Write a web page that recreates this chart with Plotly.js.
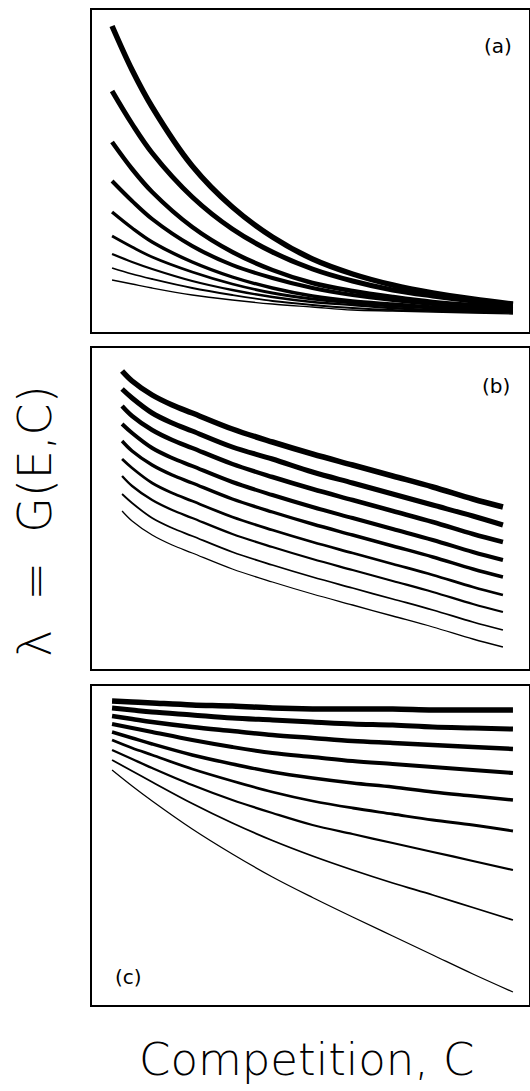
<!DOCTYPE html>
<html>
<head>
<meta charset="utf-8">
<script src="https://cdn.plot.ly/plotly-3.0.1.min.js"></script>
<style>html,body{margin:0;padding:0;background:#fff;}#chart{width:530px;height:1091px;}</style>
</head>
<body>
<div id="chart"></div>
<script>
// Competition values (C) sampled along each panel
const competitionAC = [0, 0.5, 1, 2, 3, 4, 5, 6, 7, 8, 9, 10];
const competitionB = [0.25, 0.5, 1, 1.5, 2, 3, 4, 5, 6, 7, 8, 9, 9.75];

// Panel (a): lambda = G(E,C), one row per environment level (highest E first)
const lambdaA = [
  [3.06, 2.62, 2.25, 1.66, 1.25, 0.95, 0.73, 0.58, 0.47, 0.39, 0.33, 0.28],
  [2.41, 2.08, 1.79, 1.35, 1.03, 0.80, 0.63, 0.51, 0.42, 0.36, 0.31, 0.27],
  [1.90, 1.63, 1.40, 1.05, 0.80, 0.62, 0.49, 0.41, 0.35, 0.30, 0.27, 0.25],
  [1.51, 1.31, 1.13, 0.86, 0.67, 0.54, 0.44, 0.37, 0.32, 0.28, 0.25, 0.23],
  [1.20, 1.04, 0.90, 0.70, 0.55, 0.44, 0.36, 0.31, 0.28, 0.25, 0.23, 0.22],
  [0.96, 0.85, 0.75, 0.60, 0.48, 0.39, 0.33, 0.29, 0.26, 0.24, 0.22, 0.21],
  [0.78, 0.70, 0.63, 0.51, 0.42, 0.35, 0.30, 0.27, 0.24, 0.22, 0.21, 0.20],
  [0.64, 0.58, 0.53, 0.44, 0.37, 0.31, 0.27, 0.24, 0.22, 0.21, 0.20, 0.19],
  [0.52, 0.48, 0.44, 0.37, 0.32, 0.28, 0.25, 0.22, 0.21, 0.20, 0.19, 0.18]
];

// Panel (b)
const lambdaB = [
  [2.98, 2.88, 2.74, 2.64, 2.56, 2.40, 2.27, 2.15, 2.04, 1.93, 1.82, 1.70, 1.62],
  [2.80, 2.71, 2.56, 2.46, 2.38, 2.22, 2.10, 1.97, 1.86, 1.75, 1.64, 1.53, 1.44],
  [2.63, 2.53, 2.39, 2.29, 2.21, 2.05, 1.92, 1.80, 1.69, 1.58, 1.47, 1.35, 1.27],
  [2.45, 2.36, 2.21, 2.11, 2.03, 1.87, 1.74, 1.62, 1.51, 1.40, 1.29, 1.17, 1.09],
  [2.28, 2.18, 2.04, 1.94, 1.86, 1.70, 1.57, 1.45, 1.34, 1.23, 1.12, 1.00, 0.92],
  [2.10, 2.01, 1.86, 1.76, 1.68, 1.52, 1.39, 1.27, 1.16, 1.05, 0.94, 0.82, 0.74],
  [1.93, 1.83, 1.69, 1.59, 1.51, 1.35, 1.22, 1.10, 0.99, 0.88, 0.77, 0.65, 0.57],
  [1.75, 1.66, 1.51, 1.41, 1.33, 1.17, 1.04, 0.92, 0.81, 0.70, 0.59, 0.47, 0.39],
  [1.58, 1.48, 1.34, 1.24, 1.16, 1.00, 0.87, 0.75, 0.64, 0.53, 0.42, 0.30, 0.22]
];

// Panel (c)
const lambdaC = [
  [3.04, 3.03, 3.02, 3.00, 2.99, 2.97, 2.96, 2.96, 2.96, 2.95, 2.95, 2.95],
  [2.97, 2.95, 2.93, 2.90, 2.87, 2.85, 2.83, 2.81, 2.80, 2.78, 2.77, 2.76],
  [2.89, 2.86, 2.83, 2.78, 2.74, 2.70, 2.67, 2.64, 2.62, 2.60, 2.58, 2.56],
  [2.81, 2.77, 2.73, 2.65, 2.58, 2.52, 2.48, 2.44, 2.41, 2.38, 2.35, 2.32],
  [2.73, 2.67, 2.61, 2.50, 2.41, 2.33, 2.27, 2.22, 2.18, 2.13, 2.09, 2.05],
  [2.65, 2.57, 2.50, 2.36, 2.24, 2.13, 2.04, 1.97, 1.91, 1.85, 1.80, 1.74],
  [2.55, 2.46, 2.37, 2.20, 2.05, 1.92, 1.80, 1.71, 1.62, 1.53, 1.44, 1.35],
  [2.45, 2.34, 2.23, 2.015, 1.82, 1.645, 1.49, 1.35, 1.22, 1.10, 0.975, 0.85],
  [2.35, 2.19, 2.04, 1.76, 1.51, 1.28, 1.075, 0.88, 0.69, 0.50, 0.31, 0.13]
];

const panelLabels = ['(a)', '(b)', '(c)'];
const lineWidths = [5.5, 5, 4.5, 4, 3.4, 2.8, 2.3, 1.8, 1.3];

const W = 530, H = 1091;
const px = v => v / W;
const py = v => 1 - v / H;

const traces = [];
function addPanel(xs, rows, axisIdx) {
  rows.forEach((row, i) => {
    traces.push({
      x: xs, y: row, type: 'scatter', mode: 'lines',
      line: {color: '#000', width: lineWidths[i], shape: 'spline', smoothing: 1},
      xaxis: 'x' + (axisIdx === 1 ? '' : axisIdx),
      yaxis: 'y' + (axisIdx === 1 ? '' : axisIdx),
      hoverinfo: 'skip', showlegend: false
    });
  });
}
addPanel(competitionAC, lambdaA, 1);
addPanel(competitionB, lambdaB, 2);
addPanel(competitionAC, lambdaC, 3);

function xa(anchor) {
  return {domain: [px(92), px(529)], range: [-0.5, 10.4], anchor: anchor,
    showticklabels: false, ticks: '', showgrid: false, zeroline: false,
    showline: true, mirror: true, linecolor: '#000', linewidth: 2, fixedrange: true};
}
function ya(anchor, top, bottom, maxv) {
  return {domain: [py(bottom), py(top)], range: [0, maxv], anchor: anchor,
    showticklabels: false, ticks: '', showgrid: false, zeroline: false,
    showline: true, mirror: true, linecolor: '#000', linewidth: 2, fixedrange: true};
}

const font = {family: '"DejaVu Sans", sans-serif', color: '#000'};

const layout = {
  width: W, height: H,
  margin: {l: 0, r: 0, t: 0, b: 0},
  paper_bgcolor: '#fff', plot_bgcolor: '#fff',
  xaxis: xa('y'), yaxis: ya('x', 10, 332, 3.22),
  xaxis2: xa('y2'), yaxis2: ya('x2', 348, 669, 3.21),
  xaxis3: xa('y3'), yaxis3: ya('x3', 686, 1005, 3.19),
  annotations: [
    {text: panelLabels[0], xref: 'paper', yref: 'paper', x: px(498), y: py(46), showarrow: false,
     font: Object.assign({size: 20, weight: 400}, font), xanchor: 'center', yanchor: 'middle'},
    {text: panelLabels[1], xref: 'paper', yref: 'paper', x: px(496), y: py(386), showarrow: false,
     font: Object.assign({size: 20, weight: 400}, font), xanchor: 'center', yanchor: 'middle'},
    {text: panelLabels[2], xref: 'paper', yref: 'paper', x: px(128), y: py(977), showarrow: false,
     font: Object.assign({size: 20, weight: 400}, font), xanchor: 'center', yanchor: 'middle'},
    {text: 'Competition, C', xref: 'paper', yref: 'paper', x: px(306), y: py(1059), showarrow: false,
     font: Object.assign({size: 45, weight: 200}, font), xanchor: 'center', yanchor: 'middle'},
    {text: '\u03BB\u00A0\u00A0=\u00A0\u00A0G(E,C)', xref: 'paper', yref: 'paper', x: px(35), y: py(521), showarrow: false,
     textangle: -90, font: Object.assign({size: 46, weight: 200}, font), xanchor: 'center', yanchor: 'middle'}
  ]
};

Plotly.newPlot('chart', traces, layout, {displayModeBar: false, staticPlot: true});
</script>
</body>
</html>
